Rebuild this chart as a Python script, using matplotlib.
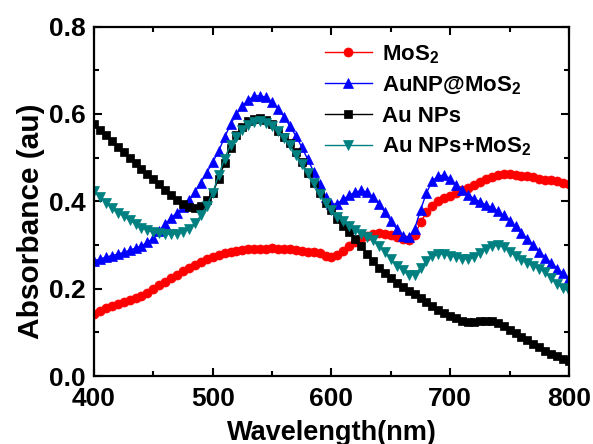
import matplotlib
matplotlib.use("Agg")
import matplotlib.pyplot as plt
from matplotlib.ticker import MultipleLocator

plt.rcParams['font.family'] = ['Liberation Sans', 'DejaVu Sans']
plt.rcParams['font.weight'] = 'bold'
plt.rcParams['mathtext.fontset'] = 'custom'
plt.rcParams['mathtext.rm'] = 'Liberation Sans:bold'
plt.rcParams['mathtext.bf'] = 'Liberation Sans:bold'
plt.rcParams['mathtext.default'] = 'bf'

wavelength = list(range(400, 801, 5))

mos2 = [0.143, 0.150, 0.156, 0.161, 0.165, 0.170, 0.174, 0.179, 0.183, 0.190,
        0.199, 0.208, 0.216, 0.224, 0.232, 0.240, 0.248, 0.255, 0.261, 0.268,
        0.273, 0.278, 0.281, 0.284, 0.287, 0.289, 0.290, 0.291, 0.292, 0.292,
        0.293, 0.292, 0.292, 0.290, 0.288, 0.286, 0.284, 0.283, 0.282, 0.275,
        0.272, 0.278, 0.287, 0.298, 0.308, 0.315, 0.320, 0.325, 0.327, 0.326,
        0.322, 0.318, 0.313, 0.311, 0.322, 0.352, 0.375, 0.390, 0.400, 0.407,
        0.413, 0.419, 0.425, 0.431, 0.437, 0.444, 0.451, 0.456, 0.460, 0.462,
        0.462, 0.461, 0.459, 0.457, 0.455, 0.452, 0.450, 0.448, 0.446, 0.443,
        0.440]

aunp_at_mos2 = [0.264, 0.268, 0.272, 0.276, 0.279, 0.283, 0.288, 0.293, 0.298, 0.306,
                0.316, 0.332, 0.348, 0.362, 0.374, 0.386, 0.402, 0.422, 0.443, 0.466,
                0.490, 0.515, 0.547, 0.576, 0.600, 0.619, 0.632, 0.641, 0.642, 0.638,
                0.627, 0.612, 0.594, 0.572, 0.550, 0.524, 0.496, 0.468, 0.440, 0.410,
                0.393, 0.395, 0.405, 0.414, 0.421, 0.425, 0.421, 0.410, 0.394, 0.375,
                0.355, 0.336, 0.321, 0.318, 0.337, 0.380, 0.420, 0.447, 0.458, 0.460,
                0.452, 0.437, 0.425, 0.415, 0.406, 0.399, 0.392, 0.386, 0.378, 0.368,
                0.356, 0.343, 0.328, 0.313, 0.299, 0.285, 0.271, 0.259, 0.246, 0.235,
                0.225]

au_nps = [0.576, 0.564, 0.551, 0.538, 0.525, 0.512, 0.500, 0.487, 0.475, 0.463,
          0.451, 0.439, 0.427, 0.415, 0.404, 0.395, 0.388, 0.385, 0.390, 0.402,
          0.420, 0.452, 0.488, 0.522, 0.551, 0.570, 0.583, 0.589, 0.590, 0.587,
          0.578, 0.562, 0.548, 0.534, 0.512, 0.489, 0.465, 0.442, 0.418, 0.397,
          0.380, 0.360, 0.344, 0.329, 0.314, 0.298, 0.280, 0.263, 0.248, 0.236,
          0.224, 0.213, 0.203, 0.195, 0.187, 0.178, 0.169, 0.160, 0.152, 0.145,
          0.138, 0.132, 0.127, 0.124, 0.123, 0.125, 0.127, 0.126, 0.121, 0.114,
          0.106, 0.098, 0.090, 0.082, 0.074, 0.066, 0.058, 0.051, 0.045, 0.039,
          0.034]

au_nps_mos2 = [0.424, 0.410, 0.397, 0.384, 0.374, 0.366, 0.357, 0.348, 0.340, 0.334,
               0.329, 0.327, 0.325, 0.325, 0.326, 0.330, 0.337, 0.350, 0.368, 0.390,
               0.420, 0.460, 0.498, 0.530, 0.548, 0.563, 0.575, 0.581, 0.584, 0.580,
               0.572, 0.561, 0.546, 0.528, 0.507, 0.486, 0.464, 0.442, 0.417, 0.397,
               0.380, 0.365, 0.355, 0.343, 0.334, 0.325, 0.318, 0.311, 0.298, 0.283,
               0.268, 0.253, 0.242, 0.232, 0.232, 0.248, 0.264, 0.274, 0.280, 0.279,
               0.276, 0.273, 0.269, 0.268, 0.272, 0.281, 0.290, 0.297, 0.300, 0.296,
               0.284, 0.275, 0.266, 0.258, 0.252, 0.246, 0.238, 0.225, 0.211, 0.202,
               0.195]

labels = ['MoS$_2$', 'AuNP@MoS$_2$', 'Au NPs', 'Au NPs+MoS$_2$']
colors = ['#ff0000', '#0000ff', '#000000', '#008080']
markers = ['o', '^', 's', 'v']
msizes = [6.5, 7.5, 6.0, 7.5]
series = [mos2, aunp_at_mos2, au_nps, au_nps_mos2]

fig = plt.figure(figsize=(5.93, 4.44), dpi=100)
ax = fig.add_axes([0.1585, 0.153, 0.8010, 0.787])

for y, lab, c, m, ms in zip(series, labels, colors, markers, msizes):
    ax.plot(wavelength, y, color=c, marker=m, markersize=ms, linewidth=1.0,
            markeredgewidth=0.5, markeredgecolor=c, label=lab)

ax.set_xlim(400, 800)
ax.set_ylim(0.0, 0.8)
ax.xaxis.set_major_locator(MultipleLocator(100))
ax.xaxis.set_minor_locator(MultipleLocator(50))
ax.yaxis.set_major_locator(MultipleLocator(0.2))
ax.yaxis.set_minor_locator(MultipleLocator(0.1))
ax.tick_params(which='both', direction='in', top=True, right=True,
               labelsize=19, width=1.5)
ax.tick_params(which='major', length=6)
ax.tick_params(which='minor', length=3.5)
ax.tick_params(axis='x', which='major', pad=8)
ax.tick_params(axis='y', which='major', pad=6)
ax.set_yticks([0.0, 0.2, 0.4, 0.6, 0.8])
ax.set_yticklabels(['0.0', '0.2', '0.4', '0.6', '0.8'])
for lbl in ax.get_xticklabels() + ax.get_yticklabels():
    lbl.set_fontweight('bold')
for s in ax.spines.values():
    s.set_linewidth(1.6)

ax.set_xlabel('Wavelength(nm)', fontsize=19.5, fontweight='bold', labelpad=6)
ax.set_ylabel('Absorbance (au)', fontsize=21.5, fontweight='bold')
ax.yaxis.set_label_coords(-0.103, 0.443)

leg = ax.legend(loc='upper left', bbox_to_anchor=(0.486, 0.953), frameon=False,
                fontsize=16, handlelength=2.1, handletextpad=0.45,
                labelspacing=0.4, borderaxespad=0.0, borderpad=0.0)

fig.savefig('out.png', dpi=100)
